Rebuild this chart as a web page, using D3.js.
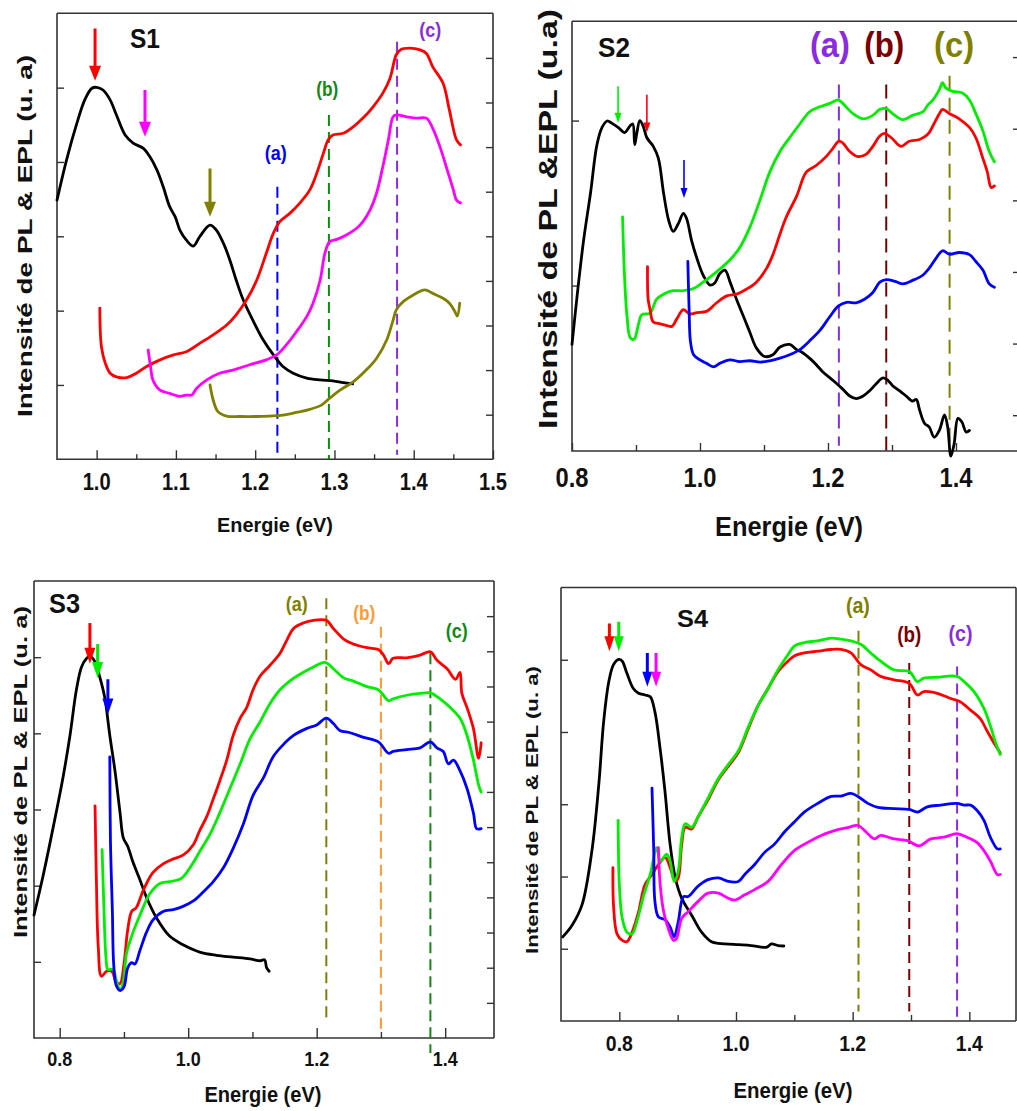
<!DOCTYPE html>
<html><head><meta charset="utf-8">
<script src="https://cdn.jsdelivr.net/npm/d3@7"></script>
<style>
body{margin:0;background:#fff;}
svg{display:block;}
text{font-family:"Liberation Sans Narrow","Arial Narrow","Liberation Sans",Arial,sans-serif;font-weight:bold;}
.ylab{font-family:"Liberation Sans",Arial,sans-serif;}
</style></head><body>
<svg id="c" width="1017" height="1111"></svg>
<script>
// ---------------- DATA ----------------
// S1
const s1Black = [[0.950,58.1],[0.962,67.1],[0.975,75.3],[0.985,80.6],[0.994,83.2],[1.000,83.4],[1.008,82.8],[1.017,80.6],[1.025,77.2],[1.036,72.7],[1.046,70.9],[1.059,69.7],[1.067,67.9],[1.076,64.9],[1.084,61.1],[1.092,56.7],[1.099,54.4],[1.105,51.4],[1.113,49.2],[1.122,47.8],[1.130,49.9],[1.143,52.5],[1.151,51.4],[1.160,48.4],[1.168,44.7],[1.176,40.2],[1.185,35.7],[1.197,31.2],[1.210,26.8],[1.223,23.4],[1.235,20.8],[1.248,19.3],[1.265,18.2],[1.282,17.8],[1.298,17.6],[1.311,17.2],[1.323,16.9]];
const s1Red = [[1.004,33.9],[1.006,25.3],[1.011,21.5],[1.017,19.3],[1.025,18.5],[1.038,18.3],[1.050,19.3],[1.063,20.8],[1.080,22.3],[1.097,23.4],[1.113,24.1],[1.130,26.0],[1.147,27.9],[1.164,30.1],[1.176,32.4],[1.189,35.7],[1.202,40.2],[1.214,46.2],[1.223,50.7],[1.231,53.3],[1.244,55.2],[1.256,57.4],[1.269,60.4],[1.277,63.8],[1.286,68.6],[1.292,71.6],[1.298,72.7],[1.311,73.1],[1.324,74.6],[1.336,76.5],[1.349,79.1],[1.361,82.1],[1.370,85.4],[1.378,90.7],[1.384,91.9],[1.395,92.2],[1.408,91.8],[1.416,91.0],[1.424,88.0],[1.437,84.3],[1.445,78.3],[1.454,71.6],[1.459,70.5]];
const s1Magenta = [[1.065,24.5],[1.068,20.8],[1.071,17.8],[1.080,15.5],[1.092,14.8],[1.105,14.1],[1.113,14.4],[1.120,14.4],[1.126,15.9],[1.139,17.8],[1.155,19.3],[1.172,20.0],[1.193,21.2],[1.214,22.3],[1.227,23.4],[1.239,25.6],[1.252,28.6],[1.265,32.0],[1.273,35.0],[1.282,40.2],[1.288,46.2],[1.294,48.8],[1.303,49.3],[1.315,50.3],[1.328,51.8],[1.336,53.3],[1.345,55.9],[1.353,59.6],[1.361,65.6],[1.368,71.6],[1.374,76.8],[1.378,77.2],[1.391,76.8],[1.403,76.5],[1.416,76.5],[1.424,74.2],[1.433,70.1],[1.441,65.6],[1.450,60.4],[1.454,58.1],[1.459,57.5]];
const s1Olive = [[1.143,16.7],[1.147,13.3],[1.153,10.7],[1.164,9.7],[1.181,9.6],[1.202,9.6],[1.218,9.7],[1.235,9.9],[1.252,10.5],[1.269,11.2],[1.284,12.2],[1.294,13.7],[1.307,15.5],[1.324,17.4],[1.340,20.0],[1.353,22.6],[1.366,26.8],[1.374,31.2],[1.378,33.5],[1.387,35.4],[1.399,36.8],[1.414,38.0],[1.424,37.2],[1.437,36.1],[1.445,35.0],[1.452,33.1],[1.455,32.1],[1.458,35.0]];
// S2
const s2Black = [[0.800,24.8],[0.808,36.1],[0.818,48.9],[0.829,60.1],[0.839,71.3],[0.847,75.3],[0.855,76.8],[0.862,76.3],[0.873,75.2],[0.882,74.1],[0.891,75.7],[0.895,76.1],[0.898,71.3],[0.901,73.7],[0.906,76.9],[0.911,75.7],[0.917,72.9],[0.927,70.9],[0.935,68.1],[0.943,60.1],[0.951,53.7],[0.958,51.1],[0.966,52.9],[0.974,55.3],[0.979,54.1],[0.987,48.9],[0.995,44.9],[1.005,40.9],[1.016,38.6],[1.023,39.1],[1.031,41.3],[1.039,42.1],[1.047,39.3],[1.057,35.3],[1.068,31.3],[1.078,27.6],[1.088,24.0],[1.101,22.0],[1.114,22.4],[1.125,24.2],[1.140,24.8],[1.151,23.6],[1.161,22.8],[1.177,20.8],[1.192,18.4],[1.208,16.4],[1.223,14.4],[1.234,12.8],[1.244,12.2],[1.255,12.8],[1.265,14.0],[1.275,15.6],[1.286,17.0],[1.294,16.4],[1.301,15.2],[1.312,14.0],[1.322,12.8],[1.332,11.6],[1.338,12.0],[1.343,9.6],[1.351,6.4],[1.358,5.6],[1.366,3.2],[1.374,4.8],[1.382,8.4],[1.387,5.6],[1.392,-1.2],[1.397,1.6],[1.403,7.6],[1.409,6.8],[1.416,4.4],[1.421,4.8]];
const s2Green = [[0.879,54.5],[0.882,40.9],[0.886,31.3],[0.891,26.4],[0.897,26.0],[0.904,29.6],[0.909,31.7],[0.922,32.1],[0.932,35.3],[0.943,36.5],[0.958,37.3],[0.974,37.3],[0.990,37.8],[1.005,39.3],[1.026,41.7],[1.047,44.5],[1.062,47.3],[1.078,52.1],[1.094,58.5],[1.109,64.9],[1.125,69.7],[1.140,72.9],[1.156,76.1],[1.171,78.9],[1.187,80.1],[1.203,80.9],[1.216,81.7],[1.223,80.9],[1.239,78.5],[1.255,77.3],[1.270,78.1],[1.281,79.5],[1.291,79.7],[1.301,78.5],[1.317,77.1],[1.332,78.1],[1.348,78.9],[1.356,80.5],[1.364,81.7],[1.374,84.1],[1.379,85.7],[1.384,84.5],[1.395,83.7],[1.410,83.3],[1.421,81.7],[1.431,78.5],[1.442,74.5],[1.452,69.7],[1.460,67.3]];
const s2Red = [[0.918,42.9],[0.919,35.3],[0.922,32.9],[0.927,30.0],[0.938,29.6],[0.948,29.2],[0.956,29.0],[0.964,30.8],[0.974,32.9],[0.984,31.9],[0.995,32.2],[1.010,32.5],[1.026,34.5],[1.042,36.1],[1.057,36.5],[1.073,37.7],[1.088,39.3],[1.104,42.5],[1.114,45.7],[1.125,50.5],[1.135,54.5],[1.151,59.3],[1.166,64.9],[1.182,66.5],[1.197,68.5],[1.208,70.5],[1.217,72.1],[1.223,71.7],[1.234,69.7],[1.247,68.5],[1.260,69.1],[1.270,70.9],[1.281,73.3],[1.288,73.9],[1.299,72.9],[1.314,70.9],[1.327,72.1],[1.343,72.5],[1.356,73.7],[1.364,75.7],[1.374,78.5],[1.379,79.5],[1.390,78.5],[1.405,77.3],[1.421,75.3],[1.431,72.9],[1.442,68.1],[1.449,64.9],[1.455,61.3],[1.460,61.7]];
const s2Blue = [[0.981,44.1],[0.983,32.9],[0.985,25.6],[0.990,22.4],[1.000,21.2],[1.010,20.4],[1.021,19.6],[1.031,20.4],[1.047,21.2],[1.062,20.8],[1.078,21.0],[1.094,20.7],[1.109,21.0],[1.125,21.6],[1.140,22.4],[1.156,23.6],[1.171,25.6],[1.187,28.0],[1.203,31.3],[1.216,33.7],[1.229,34.6],[1.244,34.5],[1.257,35.3],[1.270,36.9],[1.281,39.3],[1.291,39.9],[1.306,39.4],[1.317,38.9],[1.332,39.7],[1.348,40.9],[1.358,42.5],[1.369,44.9],[1.379,46.6],[1.390,45.8],[1.405,46.2],[1.421,45.7],[1.431,44.1],[1.442,42.1],[1.452,38.9],[1.460,38.1]];
// S3
const s3Black = [[0.760,26.9],[0.774,35.4],[0.790,46.2],[0.805,56.9],[0.816,66.2],[0.826,76.2],[0.834,81.2],[0.842,83.1],[0.847,83.5],[0.855,82.3],[0.862,79.2],[0.870,74.6],[0.878,66.2],[0.886,58.5],[0.894,49.2],[0.899,43.8],[0.906,41.9],[0.914,38.5],[0.925,34.6],[0.935,30.8],[0.951,26.2],[0.971,22.3],[0.992,20.4],[1.018,18.8],[1.044,18.1],[1.070,17.7],[1.096,17.3],[1.112,16.9],[1.119,17.1],[1.122,15.4],[1.126,14.6]];
const s3Red = [[0.855,50.8],[0.857,35.4],[0.860,20.0],[0.865,13.5],[0.873,14.6],[0.881,14.6],[0.888,12.3],[0.894,11.9],[0.900,16.2],[0.906,23.8],[0.912,27.7],[0.919,28.5],[0.930,32.3],[0.945,36.2],[0.961,38.1],[0.977,39.2],[0.992,40.0],[1.008,42.3],[1.018,45.4],[1.029,48.5],[1.039,52.3],[1.049,56.2],[1.060,60.8],[1.070,66.2],[1.081,70.0],[1.091,72.3],[1.101,76.2],[1.112,79.2],[1.127,81.5],[1.143,84.2],[1.153,86.9],[1.164,89.6],[1.179,90.8],[1.195,91.4],[1.215,91.4],[1.226,89.6],[1.242,87.3],[1.257,86.2],[1.278,85.4],[1.296,85.0],[1.304,83.8],[1.312,81.9],[1.319,83.1],[1.340,83.2],[1.361,83.8],[1.377,84.5],[1.387,82.7],[1.403,80.8],[1.416,78.5],[1.423,80.0],[1.426,75.4],[1.434,72.3],[1.444,67.7],[1.452,61.2],[1.456,64.6]];
const s3Green = [[0.866,41.2],[0.869,27.7],[0.872,17.7],[0.875,15.0],[0.883,15.0],[0.888,12.7],[0.894,10.4],[0.899,12.3],[0.904,18.5],[0.912,22.3],[0.925,26.9],[0.940,31.5],[0.956,33.8],[0.971,34.2],[0.990,35.0],[1.003,37.3],[1.018,40.8],[1.034,44.6],[1.049,49.2],[1.065,54.6],[1.081,60.0],[1.096,65.4],[1.112,69.2],[1.127,73.1],[1.143,76.2],[1.158,78.1],[1.174,79.6],[1.195,81.2],[1.213,82.2],[1.226,80.8],[1.242,78.8],[1.257,78.1],[1.278,76.9],[1.296,76.2],[1.312,73.8],[1.319,74.2],[1.340,75.0],[1.361,75.4],[1.377,75.5],[1.392,74.2],[1.408,72.3],[1.423,70.0],[1.434,66.2],[1.444,60.8],[1.452,55.4],[1.456,53.8]];
const s3Blue = [[0.878,61.5],[0.879,43.1],[0.882,27.7],[0.884,16.2],[0.888,11.5],[0.894,10.4],[0.900,11.2],[0.906,15.4],[0.912,16.5],[0.917,16.2],[0.925,19.2],[0.935,23.1],[0.945,25.8],[0.961,27.7],[0.977,28.1],[0.992,28.8],[1.008,30.0],[1.023,31.9],[1.039,34.2],[1.055,37.3],[1.070,41.5],[1.086,46.9],[1.101,53.1],[1.117,56.9],[1.132,61.5],[1.148,64.2],[1.164,66.2],[1.184,67.7],[1.200,68.5],[1.215,70.0],[1.226,68.8],[1.236,67.3],[1.252,66.8],[1.273,65.8],[1.296,64.8],[1.312,62.3],[1.319,62.7],[1.340,63.1],[1.361,63.5],[1.377,64.8],[1.387,63.5],[1.397,62.7],[1.405,60.0],[1.413,60.8],[1.423,58.5],[1.434,54.6],[1.444,49.2],[1.449,45.8],[1.456,45.8]];
// S4
const s4Black = [[0.703,19.4],[0.719,22.1],[0.736,26.8],[0.753,39.3],[0.765,54.9],[0.773,68.9],[0.782,78.3],[0.790,82.2],[0.799,83.4],[0.805,83.0],[0.813,80.2],[0.824,76.7],[0.833,75.6],[0.844,75.2],[0.853,74.8],[0.861,71.3],[0.870,62.7],[0.878,53.3],[0.887,40.8],[0.896,33.0],[0.907,28.3],[0.924,24.4],[0.941,20.5],[0.958,18.3],[0.981,17.8],[1.004,17.6],[1.026,17.4],[1.052,17.0],[1.061,17.8],[1.072,17.4],[1.082,17.3]];
const s4Red = [[0.789,35.4],[0.790,26.8],[0.796,20.1],[0.805,18.6],[0.813,18.3],[0.822,20.5],[0.833,25.2],[0.844,31.5],[0.856,33.8],[0.867,36.1],[0.879,37.7],[0.887,35.4],[0.896,32.2],[0.901,33.0],[0.907,40.8],[0.913,44.7],[0.924,44.3],[0.935,47.1],[0.952,51.0],[0.970,55.7],[0.987,58.8],[1.004,61.9],[1.021,67.4],[1.038,72.8],[1.055,76.7],[1.072,80.6],[1.089,83.0],[1.100,84.2],[1.117,84.9],[1.140,85.3],[1.163,85.7],[1.180,85.7],[1.197,84.9],[1.214,82.2],[1.231,81.0],[1.248,79.5],[1.271,78.7],[1.297,77.9],[1.311,75.2],[1.322,76.0],[1.345,75.6],[1.368,74.4],[1.385,73.6],[1.402,71.7],[1.419,69.7],[1.430,67.0],[1.442,64.2],[1.453,61.9]];
const s4Green = [[0.798,46.3],[0.800,31.5],[0.805,23.7],[0.813,20.5],[0.822,20.1],[0.830,22.9],[0.842,29.1],[0.853,33.8],[0.864,40.0],[0.870,36.9],[0.876,37.7],[0.881,38.5],[0.887,36.9],[0.894,32.2],[0.901,34.6],[0.907,42.4],[0.913,45.5],[0.924,44.7],[0.935,47.1],[0.952,51.4],[0.970,56.0],[0.987,59.2],[1.004,62.3],[1.021,67.8],[1.038,72.8],[1.055,76.7],[1.072,81.0],[1.089,84.5],[1.100,86.5],[1.117,87.3],[1.140,87.7],[1.163,88.3],[1.180,88.1],[1.197,87.7],[1.214,86.9],[1.231,84.9],[1.248,83.0],[1.271,81.0],[1.297,80.6],[1.311,78.3],[1.322,79.1],[1.345,79.3],[1.379,79.5],[1.391,78.3],[1.408,76.0],[1.425,72.1],[1.436,68.1],[1.445,64.2],[1.453,61.5]];
const s4Blue = [[0.856,53.7],[0.859,39.3],[0.861,27.6],[0.867,24.0],[0.879,23.3],[0.887,21.7],[0.894,19.4],[0.901,22.9],[0.910,28.7],[0.918,28.7],[0.935,31.1],[0.952,32.6],[0.970,33.0],[0.987,32.2],[1.004,32.2],[1.015,33.8],[1.032,36.1],[1.049,38.9],[1.066,40.8],[1.083,43.6],[1.100,45.9],[1.117,48.2],[1.140,50.2],[1.163,51.8],[1.180,51.9],[1.197,52.5],[1.209,51.8],[1.226,50.2],[1.243,49.3],[1.271,49.0],[1.297,48.8],[1.311,48.2],[1.328,49.4],[1.351,49.8],[1.379,50.2],[1.391,49.8],[1.402,49.8],[1.413,48.6],[1.425,46.3],[1.436,42.4],[1.448,39.7],[1.453,39.7]];
const s4Magenta = [[0.867,40.0],[0.870,31.5],[0.876,25.2],[0.884,21.3],[0.893,18.6],[0.898,19.0],[0.907,23.7],[0.918,25.2],[0.935,27.6],[0.952,29.5],[0.970,29.5],[0.987,28.3],[0.998,27.9],[1.015,29.1],[1.032,30.3],[1.055,32.2],[1.078,36.1],[1.100,39.3],[1.123,41.2],[1.146,42.8],[1.169,43.9],[1.191,44.6],[1.209,45.1],[1.226,43.2],[1.237,42.0],[1.248,42.8],[1.271,42.0],[1.294,41.6],[1.314,40.4],[1.334,42.0],[1.356,42.4],[1.379,43.2],[1.396,42.4],[1.413,41.2],[1.425,39.3],[1.436,36.9],[1.448,33.8],[1.453,33.8]];

// Tick values / labels
const s1XMajor = [1.0, 1.1, 1.2, 1.3, 1.4, 1.5];
const s1XMinor = [1.05, 1.15, 1.25, 1.35, 1.45];
const s234XMajor = [0.8, 1.0, 1.2, 1.4];
const s234XMinor = [0.9, 1.1, 1.3];
const sixthTicks = [16.67, 33.33, 50, 66.67, 83.33];
const s1RightTicks = [10, 20, 30, 40, 50, 60, 70, 80, 90];
const s2LeftTicks = [38.5, 76.9];
const s2RightTicks = [8.33, 25, 41.67, 58.33, 75, 91.67];
const s3RightTicks = [7.69, 15.38, 23.08, 30.77, 38.46, 46.15, 53.85, 61.54, 69.23, 76.92, 84.62, 92.31];

// Markers: [x, yTop, yBottom, label, labelX, labelY]
const s1Marks = [[1.228, 61.1, 1.3, "(a)", 1.226, 68.8], [1.293, 77.2, 0, "(b)", 1.291, 83.2], [1.379, 93.6, 1.0, "(c)", 1.421, 96.3]];
const s2Marks = [[1.217, 85.3, 1.2, "(a)", 1.203, 94.6], [1.291, 85.3, 0, "(b)", 1.288, 94.6], [1.390, 87.3, 0, "(c)", 1.397, 94.6]];
const s3Marks = [[1.215, 96.2, 3.8, "(a)", 1.169, 95.0], [1.300, 90.0, 1.5, "(b)", 1.274, 93.1], [1.377, 84.2, -3.3, "(c)", 1.418, 89.2]];
const s4Marks = [[1.210, 90.0, 2.2, "(a)", 1.209, 95.9], [1.297, 82.6, 2.2, "(b)", 1.297, 89.2], [1.379, 81.8, 1.0, "(c)", 1.385, 89.6]];

// Arrows: [x, yStart, yTip]
const s1Arrows = [[0.998, 96.6, 84.9], [1.061, 82.8, 72.3], [1.143, 65.2, 54.4]];
const s2Arrows = [[0.872, 84.9, 76.4], [0.917, 82.9, 74.1], [0.975, 67.7, 58.9]];
const s3Arrows = [[0.847, 90.8, 81.9], [0.859, 86.2, 78.8], [0.875, 78.5, 70.8]];
const s4Arrows = [[0.783, 91.7, 85.3], [0.799, 92.1, 85.3], [0.848, 84.9, 77.1], [0.863, 84.9, 77.1]];

// ---------------- STYLE / LAYOUT ----------------
const RED = "#ff0000", GREEN = "#00ee00", BLUE = "#0000ff", BLACK = "#000000", MAG = "#ff00ff", OLIVE = "#808000";
const PURPLE = "#8a2be2", DKGREEN = "#118a11", DKRED = "#7b0000", ORANGE = "#ff9933";

const panels = [
  { title: "S1", x0: 0.95, x1: 1.5, box: {l: 57, r: 493, t: 13.3, b: 459.3},
    series: [[s1Black, BLACK], [s1Red, RED], [s1Magenta, MAG], [s1Olive, OLIVE]],
    xMajor: s1XMajor, xMinor: s1XMinor, xFmt: d3.format(".1f"), tickFont: 23, tickW: 28, tickY: 482,
    left: sixthTicks, right: s1RightTicks, rightX: 493,
    marks: s1Marks, markColors: [BLUE, DKGREEN, PURPLE], markFont: 21, markW: 22, dash: "11,6",
    arrows: s1Arrows, arrowColors: [RED, MAG, OLIVE], arrowW: 3, headW: 12, headL: 15,
    titlePos: [130, 48, 27, 30],
    ylab: {text: "Intensité de PL & EPL (u. a)", x: 24, y: 236, len: 362, size: 21},
    xlab: {x: 275, y: 524, len: 116, size: 21},
    majLen: 9, minLen: 5, sideLen: 7, frameRight: true },
  { title: "S2", x0: 0.8, x1: 1.5, box: {l: 572, r: 1020, t: 21.3, b: 451},
    series: [[s2Black, BLACK], [s2Green, GREEN], [s2Red, RED], [s2Blue, BLUE]],
    xMajor: s234XMajor, xMinor: s234XMinor, xFmt: d3.format(".1f"), tickFont: 28, tickW: 33, tickY: 477,
    left: s2LeftTicks, right: s2RightTicks, rightX: 1020,
    marks: s2Marks, markColors: [PURPLE, DKRED, OLIVE], markFont: 35, markW: 40, dash: "14,8",
    arrows: s2Arrows, arrowColors: [GREEN, RED, BLUE], arrowW: 1.6, headW: 7, headL: 10,
    titlePos: [598, 57, 28, 32],
    ylab: {text: "Intensité de PL &EPL  (u.a)", x: 548, y: 219, len: 420, size: 26},
    xlab: {x: 789, y: 526, len: 148, size: 27},
    majLen: 8, minLen: 6, sideLen: 7, frameRight: false },
  { title: "S3", x0: 0.76, x1: 1.476, box: {l: 34, r: 494, t: 581, b: 1038},
    series: [[s3Black, BLACK], [s3Red, RED], [s3Green, GREEN], [s3Blue, BLUE]],
    xMajor: s234XMajor, xMinor: s234XMinor, xFmt: d3.format(".1f"), tickFont: 20, tickW: 25, tickY: 1059,
    left: sixthTicks, right: s3RightTicks, rightX: 494,
    marks: s3Marks, markColors: [OLIVE, ORANGE, DKGREEN], markFont: 21, markW: 22, dash: "11,6",
    arrows: s3Arrows, arrowColors: [RED, GREEN, BLUE], arrowW: 3, headW: 11, headL: 16,
    titlePos: [49, 613, 28, 31],
    ylab: {text: "Intensité de PL & EPL (u. a)", x: 20, y: 772, len: 332, size: 19},
    xlab: {x: 263, y: 1094, len: 117, size: 22},
    majLen: 10, minLen: 6, sideLen: 7, frameRight: true },
  { title: "S4", x0: 0.7, x1: 1.48, box: {l: 561, r: 1016, t: 587.5, b: 1021},
    series: [[s4Black, BLACK], [s4Red, RED], [s4Green, GREEN], [s4Blue, BLUE], [s4Magenta, MAG]],
    xMajor: s234XMajor, xMinor: s234XMinor, xFmt: d3.format(".1f"), tickFont: 22, tickW: 27, tickY: 1043,
    left: sixthTicks, right: [], rightX: 1016,
    marks: s4Marks, markColors: [OLIVE, DKRED, PURPLE], markFont: 22, markW: 24, dash: "11,6",
    arrows: s4Arrows, arrowColors: [RED, GREEN, BLUE, MAG], arrowW: 3, headW: 10, headL: 15,
    titlePos: [677, 627, 24, 31],
    ylab: {text: "Intensité de PL & EPL (u. a)", x: 532, y: 810, len: 288, size: 17},
    xlab: {x: 793, y: 1090, len: 119, size: 22},
    majLen: 9, minLen: 6, sideLen: 7, frameRight: true }
];

const svg = d3.select("#c");
svg.append("rect").attr("width", 1017).attr("height", 1111).attr("fill", "#fff");

panels.forEach(p => {
  const g = svg.append("g");
  const B = p.box;
  const x = d3.scaleLinear().domain([p.x0, p.x1]).range([B.l, B.r]);
  const y = d3.scaleLinear().domain([0, 100]).range([B.b, B.t]);

  // frame
  const frame = d3.path();
  frame.moveTo(B.l, B.t); frame.lineTo(Math.min(B.r, 1017), B.t);
  frame.moveTo(B.l, B.t); frame.lineTo(B.l, B.b); frame.lineTo(Math.min(B.r, 1017), B.b);
  if (p.frameRight) { frame.moveTo(B.r, B.t); frame.lineTo(B.r, B.b); }
  g.append("path").attr("d", frame.toString()).attr("fill", "none").attr("stroke", "#333").attr("stroke-width", 1.6);

  // x ticks major
  const gx = g.append("g").attr("transform", `translate(0,${B.b})`)
    .call(d3.axisBottom(x).tickValues(p.xMajor).tickSize(-p.majLen).tickPadding(0).tickFormat(""));
  gx.select(".domain").remove();
  gx.selectAll("line").attr("stroke", "#333").attr("stroke-width", 1.4);
  const gxm = g.append("g").attr("transform", `translate(0,${B.b})`)
    .call(d3.axisBottom(x).tickValues(p.xMinor).tickSize(-p.minLen).tickFormat(""));
  gxm.select(".domain").remove();
  gxm.selectAll("line").attr("stroke", "#333").attr("stroke-width", 1.4);
  // tick labels
  g.append("g").selectAll("text").data(p.xMajor).join("text")
    .attr("x", d => x(d)).attr("y", p.tickY).attr("dy", "0.36em")
    .attr("text-anchor", "middle").attr("font-size", p.tickFont).attr("fill", "#111")
    .attr("textLength", p.tickW).attr("lengthAdjust", "spacingAndGlyphs")
    .text(p.xFmt);

  // left ticks
  const gl = g.append("g").attr("transform", `translate(${B.l},0)`)
    .call(d3.axisLeft(y).tickValues(p.left).tickSize(-p.sideLen).tickFormat(""));
  gl.select(".domain").remove();
  gl.selectAll("line").attr("stroke", "#333").attr("stroke-width", 1.4);
  // right ticks
  if (p.right.length) {
    const gr = g.append("g").attr("transform", `translate(${p.rightX},0)`)
      .call(d3.axisRight(y).tickValues(p.right).tickSize(-p.sideLen).tickFormat(""));
    gr.select(".domain").remove();
    gr.selectAll("line").attr("stroke", "#333").attr("stroke-width", 1.4);
  }

  // dashed markers
  p.marks.forEach((m, i) => {
    g.append("line").attr("x1", x(m[0])).attr("x2", x(m[0]))
      .attr("y1", y(m[1])).attr("y2", y(m[2]))
      .attr("stroke", p.markColors[i]).attr("stroke-width", 2).attr("stroke-dasharray", p.dash);
    g.append("text").attr("x", x(m[4])).attr("y", y(m[5])).attr("dy", "0.36em")
      .attr("text-anchor", "middle").attr("font-size", p.markFont).attr("fill", p.markColors[i])
      .attr("textLength", p.markW).attr("lengthAdjust", "spacingAndGlyphs")
      .text(m[3]);
  });

  // curves
  const line = d3.line().x(d => x(d[0])).y(d => y(d[1])).curve(d3.curveCatmullRom.alpha(0.5));
  p.series.forEach(s => {
    g.append("path").datum(s[0]).attr("d", line).attr("fill", "none")
      .attr("stroke", s[1]).attr("stroke-width", 2.8).attr("stroke-linejoin", "round").attr("stroke-linecap", "round");
  });

  // arrows
  p.arrows.forEach((a, i) => {
    const ax = x(a[0]), y0 = y(a[1]), yt = y(a[2]);
    const c = p.arrowColors[i];
    g.append("line").attr("x1", ax).attr("x2", ax).attr("y1", y0).attr("y2", yt - p.headL + 2)
      .attr("stroke", c).attr("stroke-width", p.arrowW);
    g.append("path").attr("d", `M${ax - p.headW / 2},${yt - p.headL}L${ax + p.headW / 2},${yt - p.headL}L${ax},${yt}Z`)
      .attr("fill", c);
  });

  // title
  g.append("text").attr("x", p.titlePos[0]).attr("y", p.titlePos[1])
    .attr("font-size", p.titlePos[2]).attr("fill", "#111")
    .attr("textLength", p.titlePos[3]).attr("lengthAdjust", "spacingAndGlyphs")
    .text(p.title);

  // y label
  g.append("text").attr("class", "ylab")
    .attr("transform", `translate(${p.ylab.x},${p.ylab.y}) rotate(-90)`)
    .attr("text-anchor", "middle").attr("dy", "0.36em")
    .attr("font-size", p.ylab.size).attr("fill", "#111")
    .attr("textLength", p.ylab.len).attr("lengthAdjust", "spacingAndGlyphs")
    .text(p.ylab.text);

  // x label
  g.append("text").attr("x", p.xlab.x).attr("y", p.xlab.y).attr("dy", "0.36em")
    .attr("text-anchor", "middle").attr("font-size", p.xlab.size).attr("fill", "#111")
    .attr("textLength", p.xlab.len).attr("lengthAdjust", "spacingAndGlyphs")
    .text("Energie (eV)");
});
</script>
</body></html>
